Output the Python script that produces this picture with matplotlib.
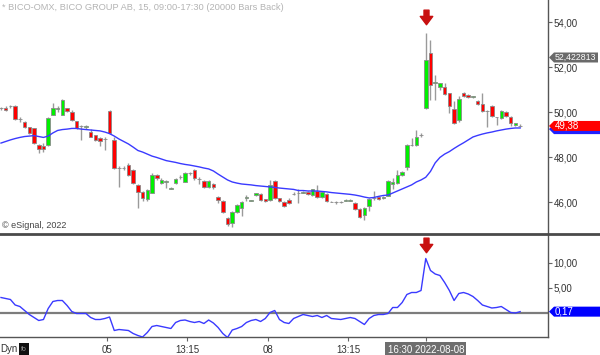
import numpy as np
import matplotlib.pyplot as plt
from matplotlib.path import Path
from matplotlib.patches import Polygon, Rectangle
from matplotlib.lines import Line2D
from matplotlib.transforms import blended_transform_factory, IdentityTransform

plt.rcParams['font.family'] = ['Liberation Sans', 'DejaVu Sans']

# 15-minute bars, BICO-OMX
opens = [
    50.18, 50.19, 50.26, 50.28, 49.69, 49.57, 49.32, 49.28, 48.53, 48.49,
    48.53, 49.87, 50.15, 49.87, 50.17, 49.99, 49.60, 49.38, 49.35, 49.13,
    48.98, 48.86, 48.80, 50.04, 48.76, 47.50, 47.50, 47.64, 47.42, 46.76,
    46.46, 46.12, 46.41, 47.20, 46.86, 46.90, 46.60, 46.83, 47.10, 46.90,
    47.28, 47.42, 47.01, 46.93, 46.68, 46.79, 46.24, 46.04, 45.29, 45.07,
    45.57, 45.73, 46.20, 46.06, 46.31, 46.36, 46.12, 46.09, 46.95, 46.16,
    46.01, 46.09, 46.36, 46.38, 46.42, 46.46, 46.31, 46.50, 46.24, 46.36,
    46.01, 46.00, 45.99, 46.06, 46.06, 45.94, 45.68, 45.42, 45.82, 46.16,
    46.24, 46.16, 46.28, 46.80, 46.83, 47.20, 47.57, 48.53, 48.53, 48.98,
    50.16, 52.62, 51.30, 51.12, 51.10, 50.83, 50.12, 49.64, 50.83, 50.76,
    50.68, 50.50, 50.36, 50.04, 50.27, 49.76, 49.72, 50.01, 49.79, 49.42,
    49.40]
highs = [
    50.24, 50.26, 50.33, 50.31, 49.78, 49.60, 49.35, 49.30, 48.58, 48.62,
    49.80, 50.38, 50.27, 50.58, 50.20, 50.09, 49.62, 49.42, 49.42, 49.25,
    49.00, 48.90, 48.87, 50.09, 48.90, 47.60, 47.60, 47.72, 47.45, 46.80,
    46.50, 46.58, 47.28, 47.24, 47.05, 47.00, 46.65, 47.05, 47.20, 47.32,
    47.35, 47.45, 47.10, 46.96, 46.98, 46.84, 46.28, 46.08, 45.33, 45.62,
    45.92, 46.06, 46.30, 46.08, 46.42, 46.40, 46.15, 46.98, 46.98, 46.20,
    46.05, 46.20, 46.45, 46.60, 46.50, 46.50, 46.60, 46.76, 46.50, 46.40,
    46.04, 46.05, 46.05, 46.12, 46.12, 45.98, 45.72, 45.76, 46.16, 46.50,
    46.28, 46.28, 46.98, 47.05, 47.42, 47.40, 48.58, 48.84, 49.20, 49.05,
    53.52, 53.20, 51.64, 51.30, 51.27, 50.86, 50.50, 50.70, 50.90, 50.80,
    50.72, 50.55, 50.86, 50.08, 50.30, 49.80, 50.11, 50.04, 49.82, 49.53,
    49.46]
lows = [
    50.10, 50.04, 50.20, 49.66, 49.56, 49.30, 49.02, 48.58, 48.16, 48.22,
    48.50, 49.85, 49.98, 49.85, 50.00, 49.60, 49.25, 48.76, 49.25, 48.88,
    48.72, 48.50, 48.31, 49.02, 47.48, 46.67, 47.42, 47.15, 46.80, 45.73,
    46.05, 46.05, 46.38, 47.00, 46.82, 46.62, 46.58, 46.80, 47.02, 46.88,
    47.22, 47.00, 46.78, 46.64, 46.64, 46.60, 45.95, 45.52, 44.92, 44.87,
    45.50, 45.40, 46.05, 46.04, 46.28, 46.05, 46.02, 46.05, 46.12, 46.02,
    45.78, 45.93, 46.30, 45.95, 46.38, 46.32, 46.28, 46.20, 46.20, 46.02,
    45.98, 45.90, 45.96, 46.03, 46.03, 45.64, 45.30, 45.20, 45.60, 46.10,
    46.08, 46.12, 46.25, 46.60, 46.80, 47.15, 47.42, 48.50, 48.50, 48.90,
    50.14, 50.53, 50.53, 50.98, 50.76, 49.95, 49.46, 49.56, 50.68, 50.64,
    50.64, 50.32, 50.02, 49.35, 49.78, 49.42, 49.68, 49.78, 49.38, 49.38,
    49.34]
closes = [
    50.16, 50.08, 50.28, 49.69, 49.70, 49.32, 49.05, 48.61, 48.34, 48.36,
    49.72, 50.16, 50.17, 50.53, 50.04, 49.64, 49.28, 49.40, 49.36, 48.90,
    48.76, 48.71, 48.82, 49.07, 47.51, 47.52, 47.52, 47.20, 46.86, 46.46,
    46.20, 46.53, 47.20, 47.05, 46.98, 46.92, 46.60, 47.01, 47.12, 47.28,
    47.30, 47.05, 47.02, 46.68, 46.93, 46.68, 46.09, 45.57, 45.02, 45.57,
    45.87, 46.01, 46.21, 46.06, 46.39, 46.09, 46.06, 46.76, 46.16, 46.06,
    45.82, 45.97, 46.37, 46.39, 46.43, 46.36, 46.56, 46.24, 46.46, 46.06,
    46.01, 46.01, 46.02, 46.09, 46.09, 45.68, 45.35, 45.72, 46.12, 46.17,
    46.12, 46.24, 46.92, 46.90, 47.20, 47.35, 48.53, 48.55, 48.90, 48.99,
    52.31, 51.20, 51.32, 51.27, 50.80, 50.27, 49.50, 50.60, 50.71, 50.68,
    50.69, 50.36, 50.06, 50.05, 49.82, 49.77, 50.06, 49.82, 49.52, 49.50,
    49.38]
ma = [
    48.62, 48.69, 48.76, 48.82, 48.87, 48.91, 48.93, 48.95, 48.91, 48.87,
    48.93, 49.07, 49.18, 49.22, 49.24, 49.27, 49.27, 49.24, 49.22, 49.20,
    49.18, 49.16, 49.11, 49.04, 48.93, 48.80, 48.69, 48.58, 48.44, 48.29,
    48.22, 48.13, 48.04, 47.98, 47.91, 47.84, 47.80, 47.76, 47.71, 47.67,
    47.64, 47.60, 47.56, 47.51, 47.47, 47.38, 47.24, 47.11, 46.98, 46.89,
    46.84, 46.80, 46.78, 46.76, 46.73, 46.71, 46.69, 46.67, 46.65, 46.62,
    46.60, 46.58, 46.56, 46.51, 46.51, 46.49, 46.49, 46.49, 46.47, 46.45,
    46.42, 46.40, 46.38, 46.36, 46.34, 46.31, 46.27, 46.22, 46.18, 46.20,
    46.25, 46.29, 46.31, 46.40, 46.49, 46.58, 46.67, 46.76, 46.89, 46.98,
    47.10, 47.36, 47.74, 47.98, 48.13, 48.24, 48.38, 48.51, 48.63, 48.76,
    48.89, 48.96, 49.02, 49.07, 49.11, 49.16, 49.20, 49.24, 49.27, 49.29,
    49.29]
osc = [
    3.0, 2.8, 2.6, 1.5, 1.2, 0.4, -0.4, -1.0, -1.6, -1.4,
    0.8, 2.2, 2.4, 2.4, 1.4, 0.2, -0.2, -0.2, -0.2, -1.0,
    -1.4, -1.4, -1.2, -0.9, -3.6, -3.4, -3.5, -3.6, -4.2, -4.6,
    -4.9, -4.0, -2.8, -2.6, -2.8, -3.0, -3.2, -2.0, -1.6, -1.5,
    -1.8, -2.0, -1.8, -2.2, -1.5, -2.1, -3.0, -4.2, -5.0, -3.5,
    -3.2, -2.8, -2.0, -1.6, -1.4, -1.8, -1.2, 0.0, 0.4, -1.4,
    -2.0, -2.2, -1.2, -0.8, -0.4, -0.6, -0.8, -0.6, -1.0, -0.6,
    -1.2, -1.3, -1.4, -1.2, -1.0, -1.2, -1.8, -2.4, -1.2, -0.6,
    -0.4, -0.4, -0.2, 1.0, 1.0, 2.0, 3.6, 4.0, 4.0, 4.4,
    10.8, 8.4, 7.7, 7.4, 6.0, 4.4, 2.4, 3.8, 4.0, 3.7,
    3.2, 2.4, 1.5, 1.2, 0.9, 1.0, 1.2, 0.6, 0.0, -0.1,
    0.17]

price_ticks = [46, 48, 50, 52, 54]
osc_ticks = [5, 10]
time_ticks = [22.5, 39.5, 56.5, 73.5]
time_labels = ['05', '13:15', '08', '13:15']
cursor_bar = 90
cursor_label = '16:30 2022-08-08'
cursor_price = 52.422813
last_price = 49.38

W, H = 600, 355
fig = plt.figure(figsize=(W / 100, H / 100), dpi=100)


def px_axes(x0, y0, x1, y1):
    return fig.add_axes([x0 / W, 1 - y1 / H, (x1 - x0) / W, (y1 - y0) / H])


ax = px_axes(0, 0, 548, 234)
ax2 = px_axes(0, 234, 548, 337)

idx = np.arange(len(opens))
o = np.array(opens)
c = np.array(closes)

# candles
ax.vlines(idx, lows, highs, color='#9a9a9a', lw=1, zorder=2)
body_low = np.minimum(o, c)
body_h = np.maximum(np.abs(c - o), 0.012)
cols = np.where(c >= o, '#00f000', '#ff0000')
ax.bar(idx, body_h, bottom=body_low, width=0.75, color=cols,
       edgecolor='#8a8a8a', linewidth=0.6, zorder=3)
ax.plot(idx, ma, color='#3a3aff', lw=1, zorder=4)

ax2.axhline(0, color='#7c7c7c', lw=1.6, zorder=1)
ax2.plot(idx, osc, color='#3a3aff', lw=1, zorder=3)

for a in (ax, ax2):
    a.set_xlim(-0.21, 115.9)
    a.set_facecolor('white')
    for s in ('left', 'top', 'bottom'):
        a.spines[s].set_visible(False)
    a.spines['right'].set_color('#555555')
    a.spines['right'].set_linewidth(1)
    a.yaxis.tick_right()
    a.tick_params(axis='y', direction='out', length=3, width=0.8, color='#666666',
                  labelsize=7, labelcolor='#333333', pad=1)

ax.set_ylim(44.578, 54.978)
ax.set_yticks(price_ticks)
ax.set_yticklabels(['{:.2f}'.format(v).replace('.', ',') for v in price_ticks])
ax.set_xticks([])

ax2.set_ylim(-4.9, 15.7)
ax2.set_yticks(osc_ticks)
ax2.set_yticklabels(['{:.2f}'.format(v).replace('.', ',') for v in osc_ticks])
ax2.spines['bottom'].set_visible(True)
ax2.spines['bottom'].set_color('#555555')
ax2.spines['bottom'].set_linewidth(1)
ax2.set_xticks(time_ticks + [cursor_bar])
ax2.set_xticklabels(time_labels + [''])
ax2.tick_params(axis='x', direction='out', length=3, width=0.8, color='#666666',
                labelsize=7, labelcolor='#333333', pad=3)

# separator between panels
fig.add_artist(Line2D([0, 1], [1 - 234 / H] * 2, color='#4a4a4a', lw=2))

# cursor time label
tr2 = blended_transform_factory(ax2.transData, ax2.transAxes)
ax2.text(cursor_bar, -0.125, cursor_label, transform=tr2, ha='center', va='center',
         fontsize=7, color='white',
         bbox=dict(boxstyle='square,pad=0.25', fc='#6e6e6e', ec='none'))

# red arrows over the cursor bar
arrow = Path([(-0.3, 1.0), (0.3, 1.0), (0.3, 0.25), (0.75, 0.25), (0.0, -0.75),
              (-0.75, 0.25), (-0.3, 0.25), (-0.3, 1.0)], closed=True)
tr1 = blended_transform_factory(ax.transData, ax.transAxes)
ax.plot([cursor_bar], [1 - 18 / 234], marker=arrow, markersize=12, color='#c81010',
        transform=tr1, clip_on=False, zorder=5)
ax2.plot([cursor_bar], [1 - 12 / 103], marker=arrow, markersize=12, color='#c81010',
         transform=tr2, clip_on=False, zorder=5)

# texts
fig.text(2 / W, 1 - 8 / H, '* BICO-OMX, BICO GROUP AB, 15, 09:00-17:30 (20000 Bars Back)',
         fontsize=6.7, color='#b4b4b4', va='center')
fig.text(2 / W, 1 - 226 / H, '\u00a9 eSignal, 2022', fontsize=6.5, color='#444444',
         va='center')
fig.text(0, 1 - 349 / H, 'Dyn', fontsize=7, color='#333333', va='center')
fig.add_artist(Rectangle((19 / W, 1 - 356 / H), 10 / W, 13 / H, transform=fig.transFigure,
                         fc='#111111', ec='none'))
fig.text(24 / W, 1 - 349.5 / H, 'fo', fontsize=5, color='#9a9a9a', ha='center',
         va='center')

fig.canvas.draw()


def right_label(axis, value, text, color, x1=600, h=10, size=7):
    yd = axis.transData.transform((0, value))[1]
    pts = [(549, yd), (554, yd + h / 2), (x1, yd + h / 2), (x1, yd - h / 2),
           (554, yd - h / 2)]
    fig.add_artist(Polygon(pts, closed=True, transform=IdentityTransform(),
                           fc=color, ec='none'))
    fig.text(555 / W, yd / H, text, fontsize=size, color='white', va='center')


right_label(ax, cursor_price, '{:.6f}'.format(cursor_price).replace('.', ','),
            '#6a6a6a', x1=598, size=6.3)
right_label(ax, ma[-1] - 0.05, '', '#2020ff')
right_label(ax, last_price, '{:.2f}'.format(last_price).replace('.', ','), '#ff0000')
right_label(ax2, osc[-1], '{:.2f}'.format(osc[-1]).replace('.', ','), '#0000ff')

fig.savefig('out.png', dpi=100, facecolor='white')
